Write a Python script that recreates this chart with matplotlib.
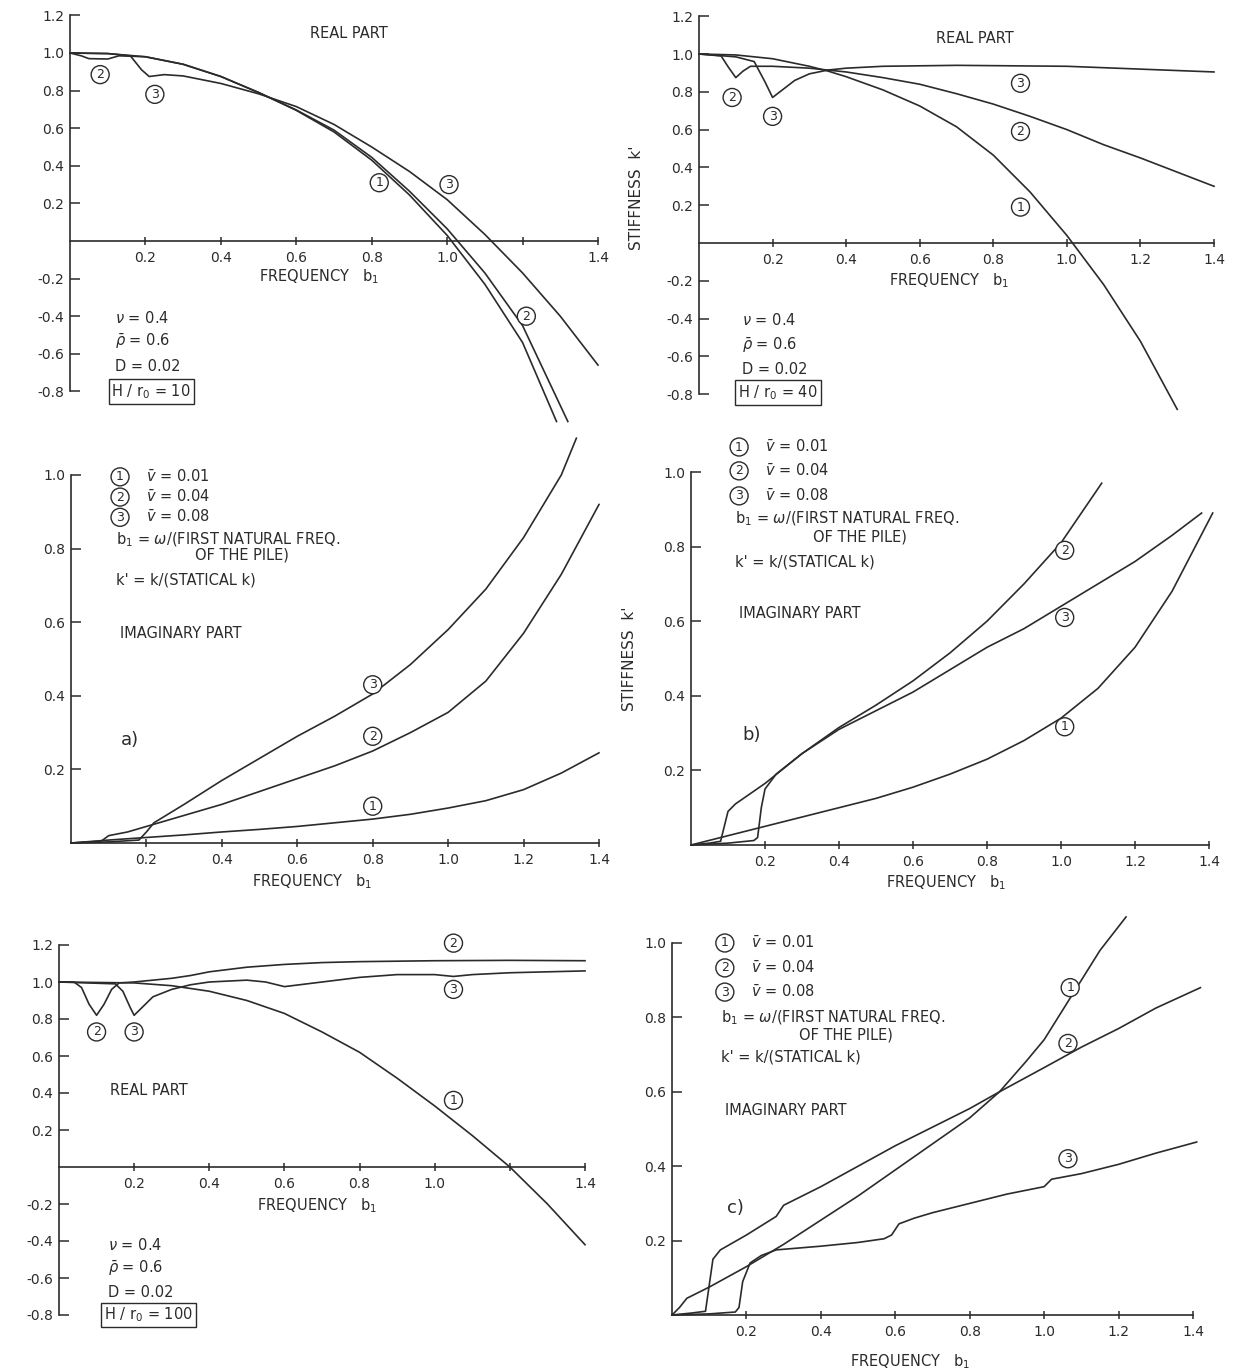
import numpy as np
import matplotlib
matplotlib.use("Agg")
import matplotlib.pyplot as plt

# ---------------- data ----------------
# top left: real part, H/r0 = 10
tl_1 = np.array([[0, 1.0], [0.1, 0.997], [0.2, 0.98], [0.3, 0.94], [0.4, 0.875], [0.5, 0.79],
                 [0.6, 0.695], [0.7, 0.58], [0.8, 0.43], [0.9, 0.245], [1.0, 0.03],
                 [1.1, -0.23], [1.2, -0.54], [1.29, -0.96]])
tl_2 = np.array([[0, 1.0], [0.03, 0.985], [0.05, 0.97], [0.1, 0.968], [0.13, 0.985], [0.2, 0.98],
                 [0.3, 0.94], [0.4, 0.875], [0.5, 0.79], [0.6, 0.697], [0.7, 0.59], [0.8, 0.445],
                 [0.9, 0.265], [1.0, 0.065], [1.1, -0.17], [1.2, -0.45], [1.32, -0.96]])
tl_3 = np.array([[0, 1.0], [0.1, 0.997], [0.16, 0.985], [0.19, 0.91], [0.21, 0.875], [0.25, 0.885],
                 [0.3, 0.878], [0.4, 0.838], [0.5, 0.783], [0.6, 0.715], [0.7, 0.62], [0.8, 0.5],
                 [0.9, 0.37], [1.0, 0.22], [1.1, 0.035], [1.2, -0.17], [1.3, -0.4], [1.4, -0.66]])

# top right: real part, H/r0 = 40
tr_1 = np.array([[0, 1.0], [0.1, 0.995], [0.2, 0.975], [0.3, 0.935], [0.35, 0.91], [0.4, 0.88],
                 [0.5, 0.81], [0.6, 0.725], [0.7, 0.615], [0.8, 0.465], [0.9, 0.27], [1.0, 0.04],
                 [1.1, -0.22], [1.2, -0.52], [1.3, -0.88]])
tr_2 = np.array([[0, 1.0], [0.06, 0.99], [0.08, 0.93], [0.1, 0.875], [0.12, 0.91], [0.14, 0.935],
                 [0.2, 0.935], [0.3, 0.925], [0.4, 0.905], [0.5, 0.875], [0.6, 0.84], [0.7, 0.79],
                 [0.8, 0.735], [0.9, 0.67], [1.0, 0.6], [1.1, 0.52], [1.2, 0.45], [1.3, 0.375],
                 [1.4, 0.3]])
tr_3 = np.array([[0, 1.0], [0.1, 0.985], [0.15, 0.96], [0.18, 0.85], [0.2, 0.77], [0.22, 0.8],
                 [0.26, 0.86], [0.3, 0.895], [0.35, 0.915], [0.4, 0.925], [0.5, 0.935],
                 [0.7, 0.94], [1.0, 0.935], [1.2, 0.92], [1.4, 0.905]])

# middle left: imaginary part a)
ml_1 = np.array([[0, 0], [0.1, 0.008], [0.2, 0.015], [0.3, 0.022], [0.4, 0.03], [0.5, 0.037],
                 [0.6, 0.045], [0.7, 0.055], [0.8, 0.065], [0.9, 0.078], [1.0, 0.095],
                 [1.1, 0.115], [1.2, 0.145], [1.3, 0.19], [1.4, 0.245]])
ml_2 = np.array([[0, 0], [0.08, 0.005], [0.1, 0.02], [0.15, 0.03], [0.2, 0.045], [0.3, 0.075],
                 [0.4, 0.105], [0.5, 0.14], [0.6, 0.175], [0.7, 0.21], [0.8, 0.25], [0.9, 0.3],
                 [1.0, 0.355], [1.1, 0.44], [1.2, 0.57], [1.3, 0.73], [1.4, 0.92]])
ml_3 = np.array([[0, 0], [0.1, 0.003], [0.18, 0.008], [0.2, 0.03], [0.22, 0.055], [0.3, 0.105],
                 [0.4, 0.17], [0.5, 0.23], [0.6, 0.29], [0.7, 0.345], [0.8, 0.405], [0.9, 0.485],
                 [1.0, 0.58], [1.1, 0.69], [1.2, 0.83], [1.3, 1.0], [1.34, 1.1]])

# middle right: imaginary part b)
mr_1 = np.array([[0, 0], [0.02, 0.005], [0.1, 0.025], [0.2, 0.05], [0.3, 0.075], [0.4, 0.1],
                 [0.5, 0.125], [0.6, 0.155], [0.7, 0.19], [0.8, 0.23], [0.9, 0.28], [1.0, 0.34],
                 [1.1, 0.42], [1.2, 0.53], [1.3, 0.68], [1.41, 0.89]])
mr_2 = np.array([[0, 0], [0.05, 0.005], [0.08, 0.01], [0.09, 0.05], [0.1, 0.09], [0.12, 0.11],
                 [0.2, 0.165], [0.3, 0.245], [0.4, 0.315], [0.5, 0.375], [0.6, 0.44], [0.7, 0.515],
                 [0.8, 0.6], [0.9, 0.7], [1.0, 0.81], [1.11, 0.97]])
mr_3 = np.array([[0, 0], [0.1, 0.005], [0.17, 0.012], [0.18, 0.02], [0.19, 0.1], [0.2, 0.15],
                 [0.23, 0.19], [0.3, 0.245], [0.4, 0.31], [0.5, 0.36], [0.6, 0.41], [0.7, 0.47],
                 [0.8, 0.53], [0.9, 0.58], [1.0, 0.64], [1.1, 0.7], [1.2, 0.76], [1.3, 0.83],
                 [1.38, 0.89]])

# bottom left: real part, H/r0 = 100
bl_1 = np.array([[0, 1.0], [0.2, 0.995], [0.3, 0.98], [0.4, 0.95], [0.5, 0.9], [0.6, 0.83],
                 [0.7, 0.73], [0.8, 0.62], [0.9, 0.48], [1.0, 0.33], [1.1, 0.17], [1.2, 0.0],
                 [1.3, -0.2], [1.4, -0.42]])
bl_2 = np.array([[0, 1.0], [0.04, 1.0], [0.06, 0.97], [0.08, 0.88], [0.1, 0.82], [0.12, 0.88],
                 [0.14, 0.96], [0.16, 0.995], [0.2, 1.0], [0.25, 1.01], [0.3, 1.02], [0.35, 1.035],
                 [0.4, 1.055], [0.5, 1.08], [0.6, 1.095], [0.7, 1.105], [0.8, 1.11], [1.0, 1.115],
                 [1.2, 1.117], [1.4, 1.115]])
bl_3 = np.array([[0, 1.0], [0.15, 0.99], [0.17, 0.95], [0.19, 0.86], [0.2, 0.82], [0.22, 0.86],
                 [0.25, 0.92], [0.3, 0.96], [0.35, 0.985], [0.4, 1.0], [0.5, 1.01], [0.55, 1.0],
                 [0.6, 0.975], [0.7, 1.0], [0.8, 1.025], [0.9, 1.04], [1.0, 1.04], [1.05, 1.03],
                 [1.1, 1.04], [1.2, 1.05], [1.4, 1.06]])

# bottom right: imaginary part c)
br_1 = np.array([[0, 0], [0.02, 0.02], [0.04, 0.045], [0.1, 0.075], [0.2, 0.13], [0.3, 0.19],
                 [0.4, 0.255], [0.5, 0.32], [0.6, 0.39], [0.7, 0.46], [0.8, 0.53], [0.88, 0.6],
                 [0.95, 0.68], [1.0, 0.74], [1.05, 0.82], [1.1, 0.9], [1.15, 0.98], [1.22, 1.07]])
br_2 = np.array([[0, 0], [0.05, 0.005], [0.09, 0.01], [0.1, 0.08], [0.11, 0.15], [0.13, 0.175],
                 [0.2, 0.215], [0.28, 0.265], [0.3, 0.295], [0.4, 0.345], [0.5, 0.4], [0.6, 0.455],
                 [0.7, 0.505], [0.8, 0.555], [0.88, 0.6], [1.0, 0.665], [1.1, 0.72], [1.2, 0.77],
                 [1.3, 0.825], [1.42, 0.88]])
br_3 = np.array([[0, 0], [0.1, 0.003], [0.17, 0.008], [0.18, 0.02], [0.19, 0.09], [0.21, 0.14],
                 [0.24, 0.16], [0.28, 0.175], [0.4, 0.185], [0.5, 0.195], [0.57, 0.205],
                 [0.59, 0.215], [0.61, 0.245], [0.65, 0.26], [0.7, 0.275], [0.8, 0.3], [0.9, 0.325],
                 [1.0, 0.345], [1.02, 0.365], [1.1, 0.38], [1.2, 0.405], [1.3, 0.435], [1.41, 0.465]])

x_ticks = [0.2, 0.4, 0.6, 0.8, 1.0, 1.2, 1.4]
full_xl = ["0.2", "0.4", "0.6", "0.8", "1.0", "1.2", "1.4"]
part_xl = ["0.2", "0.4", "0.6", "0.8", "1.0", "", "1.4"]
real_yticks = [-0.8, -0.6, -0.4, -0.2, 0.2, 0.4, 0.6, 0.8, 1.0, 1.2]
imag_yticks = [0.2, 0.4, 0.6, 0.8, 1.0]
vbar = ["0.01", "0.04", "0.08"]
params = [r"$\nu$ = 0.4", r"$\bar{\rho}$ = 0.6", "D = 0.02"]

# ---------------- drawing ----------------
W, H = 1245, 1371
INK = "#2b2b2b"
FS = 10.5
plt.rcParams["font.family"] = ["DejaVu Sans"]
plt.rcParams["mathtext.fontset"] = "dejavusans"
fig = plt.figure(figsize=(W / 100, H / 100), dpi=100)
fig.patch.set_facecolor("white")


def make_ax(x0, x14, y0, unit, ylim, ybot, ytop, yticks, xlabels):
    # x0/x14: pixel of b1=0 and b1=1.4, y0: pixel of k'=0, unit: pixels per 1.0
    xlim = (-0.03, 1.46)
    sx = (x14 - x0) / 1.4
    left = x0 + xlim[0] * sx
    right = x0 + xlim[1] * sx
    top = y0 - ylim[1] * unit
    bottom = y0 - ylim[0] * unit
    ax = fig.add_axes([left / W, 1 - bottom / H, (right - left) / W, (bottom - top) / H])
    ax.set_xlim(*xlim)
    ax.set_ylim(*ylim)
    ax.patch.set_alpha(0)
    for s in ["top", "right"]:
        ax.spines[s].set_visible(False)
    ax.spines["bottom"].set_position(("data", 0))
    ax.spines["bottom"].set_bounds(0, 1.4)
    ax.spines["left"].set_position(("data", 0))
    ax.spines["left"].set_bounds(ybot, ytop)
    for s in ["bottom", "left"]:
        ax.spines[s].set_color(INK)
        ax.spines[s].set_linewidth(1.2)
    ax.set_xticks(x_ticks, xlabels)
    ax.set_yticks(yticks, [f"{v:.1f}" for v in yticks])
    ax.tick_params(axis="x", direction="inout", length=6, width=1.1, colors=INK,
                   labelsize=10, pad=4)
    ax.tick_params(axis="y", direction="in", length=7, width=1.1, colors=INK,
                   labelsize=10, pad=4)
    return ax


def circ(ax, x, y, n):
    ax.text(x, y, str(n), fontsize=9, color=INK, ha="center", va="center",
            bbox=dict(boxstyle="circle,pad=0.2", fc="white", ec=INK, lw=1.0), zorder=5)


def curves(ax, data):
    for d in data:
        ax.plot(d[:, 0], d[:, 1], color=INK, lw=1.2, clip_on=False)


def freq_label(ax, xy):
    ax.text(*xy, r"FREQUENCY   b$_1$", fontsize=FS, color=INK, ha="center", va="center")


def param_block(ax, x, ys, box_text):
    for i, p in enumerate(params):
        ax.text(x, ys[i], p, fontsize=FS, color=INK, ha="left", va="center")
    ax.text(x - 0.01, ys[3], box_text, fontsize=FS, color=INK, ha="left", va="center",
            bbox=dict(boxstyle="square,pad=0.2", fc="white", ec=INK, lw=1.0))


def real_panel(ax, data, labels, title_xy, freq_xy, par_x, par_y, box_text):
    curves(ax, data)
    for (x, y, n) in labels:
        circ(ax, x, y, n)
    ax.text(*title_xy, "REAL PART", fontsize=FS, color=INK, ha="center", va="center")
    freq_label(ax, freq_xy)
    param_block(ax, par_x, par_y, box_text)


def imag_panel(ax, data, labels, legend_x, legend_y, note_y, tag, tag_xy, freq_xy):
    curves(ax, data)
    for (x, y, n) in labels:
        circ(ax, x, y, n)
    for i in range(3):
        circ(ax, legend_x, legend_y[i], i + 1)
        ax.text(legend_x + 0.07, legend_y[i], r"$\bar{v}$ = " + vbar[i], fontsize=FS,
                color=INK, ha="left", va="center")
    ax.text(legend_x - 0.01, note_y[0], r"b$_1$ = $\omega$/(FIRST NATURAL FREQ.", fontsize=FS,
            color=INK, ha="left", va="center")
    ax.text(legend_x + 0.2, note_y[1], "OF THE PILE)", fontsize=FS, color=INK,
            ha="left", va="center")
    ax.text(legend_x - 0.01, note_y[2], "k' = k/(STATICAL k)", fontsize=FS, color=INK,
            ha="left", va="center")
    ax.text(legend_x, note_y[3], "IMAGINARY PART", fontsize=FS, color=INK,
            ha="left", va="center")
    ax.text(*tag_xy, tag, fontsize=13, color=INK, ha="center", va="center")
    freq_label(ax, freq_xy)


# top left
ax = make_ax(70, 598, 241, 188, (-1.0, 1.26), -0.8, 1.2, real_yticks, part_xl)
real_panel(ax, [tl_1, tl_2, tl_3],
           [(0.82, 0.31, 1), (0.08, 0.885, 2), (0.225, 0.78, 3), (1.005, 0.30, 3), (1.21, -0.40, 2)],
           (0.74, 1.105), (0.66, -0.19), 0.12, [-0.41, -0.537, -0.67, -0.80], r"H / r$_0$ = 10")

# top right
ax = make_ax(699, 1214, 243, 189, (-0.95, 1.26), -0.8, 1.2, real_yticks, full_xl)
real_panel(ax, [tr_1, tr_2, tr_3],
           [(0.09, 0.77, 2), (0.2, 0.67, 3), (0.874, 0.845, 3), (0.874, 0.59, 2), (0.874, 0.19, 1)],
           (0.75, 1.08), (0.68, -0.2), 0.117, [-0.41, -0.54, -0.667, -0.79], r"H / r$_0$ = 40")
ax.text(-0.17, 0.24, "STIFFNESS  k'", rotation=90, fontsize=11, color=INK,
        ha="center", va="center")

# middle left
ax = make_ax(71, 599, 843, 368, (-0.13, 1.13), 0.0, 1.0, imag_yticks, full_xl)
imag_panel(ax, [ml_1, ml_2, ml_3], [(0.8, 0.43, 3), (0.8, 0.29, 2), (0.8, 0.10, 1)],
           0.13, [0.995, 0.94, 0.885], [0.823, 0.783, 0.715, 0.568],
           "a)", (0.157, 0.28), (0.64, -0.105))

# middle right
ax = make_ax(691, 1209, 845, 373, (-0.13, 1.12), 0.0, 1.0, imag_yticks, full_xl)
imag_panel(ax, [mr_1, mr_2, mr_3], [(1.01, 0.79, 2), (1.01, 0.61, 3), (1.01, 0.317, 1)],
           0.13, [1.067, 1.003, 0.936], [0.874, 0.826, 0.759, 0.62],
           "b)", (0.165, 0.295), (0.69, -0.1))
ax.text(-0.165, 0.5, "STIFFNESS  k'", rotation=90, fontsize=11, color=INK,
        ha="center", va="center")

# bottom left
ax = make_ax(59, 585, 1167, 185, (-0.9, 1.3), -0.8, 1.2, real_yticks, part_xl)
curves(ax, [bl_1, bl_2, bl_3])
for (x, y, n) in [(0.1, 0.73, 2), (0.2, 0.73, 3), (1.05, 1.21, 2), (1.05, 0.96, 3), (1.05, 0.36, 1)]:
    circ(ax, x, y, n)
ax.text(0.136, 0.416, "REAL PART", fontsize=FS, color=INK, ha="left", va="center")
freq_label(ax, (0.688, -0.207))
param_block(ax, 0.13, [-0.42, -0.546, -0.676, -0.80], r"H / r$_0$ = 100")

# bottom right
ax = make_ax(672, 1193, 1315, 372, (-0.13, 1.1), 0.0, 1.0, imag_yticks, full_xl)
imag_panel(ax, [br_1, br_2, br_3], [(1.07, 0.88, 1), (1.064, 0.73, 2), (1.064, 0.42, 3)],
           0.142, [1.0, 0.933, 0.868], [0.8, 0.753, 0.694, 0.551],
           "c)", (0.17, 0.288), (0.64, -0.125))

fig.savefig("out.png", dpi=100, facecolor="white")
